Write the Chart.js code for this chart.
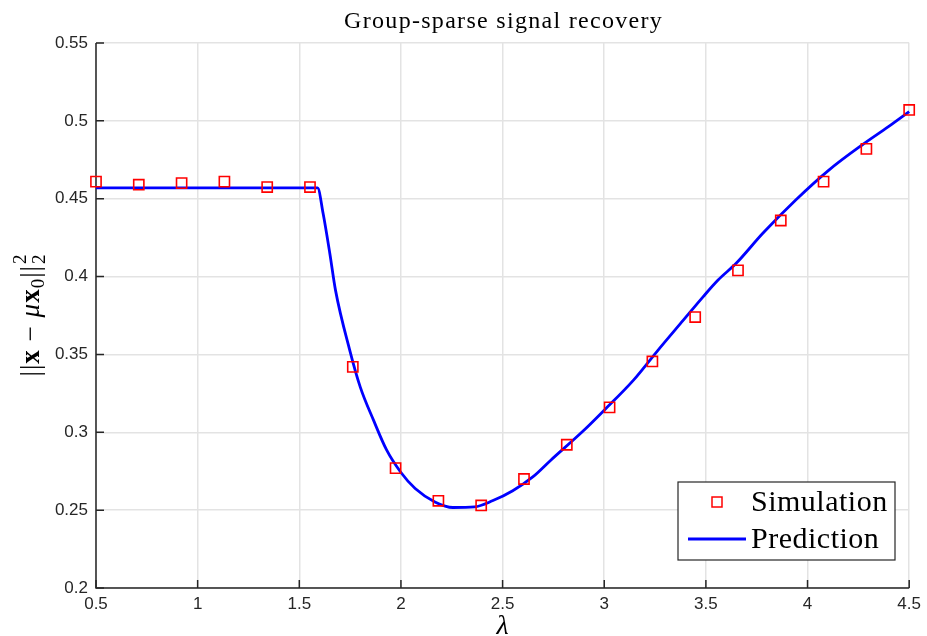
<!DOCTYPE html>
<html>
<head>
<meta charset="utf-8">
<script src="https://cdn.jsdelivr.net/npm/chart.js@4.4.1/dist/chart.umd.min.js"></script>
<style>
html,body{margin:0;padding:0;background:#fff;}
#wrap{width:927px;height:636px;position:relative;}
</style>
</head>
<body>
<div id="wrap"><canvas id="c" width="927" height="636"></canvas></div>
<script>
const titleText = "Group-sparse signal recovery";
const xTicks = [0.5, 1, 1.5, 2, 2.5, 3, 3.5, 4, 4.5];
const yTicks = [0.2, 0.25, 0.3, 0.35, 0.4, 0.45, 0.5, 0.55];

const simLambda = [0.5, 0.7105, 0.9211, 1.1316, 1.3421, 1.5526, 1.7632, 1.9737, 2.1842, 2.3947,
                   2.6053, 2.8158, 3.0263, 3.2368, 3.4474, 3.6579, 3.8684, 4.0789, 4.2895, 4.5];
const simValues = [0.461, 0.459, 0.460, 0.461, 0.4575, 0.4575, 0.342, 0.277, 0.256, 0.253,
                   0.270, 0.292, 0.316, 0.3455, 0.374, 0.404, 0.436, 0.461, 0.482, 0.507];

const predLambda = [0.5, 1.59, 1.617, 1.65, 1.678, 1.748, 1.80, 1.865, 1.93, 2.0, 2.07, 2.167, 2.256,
                    2.362, 2.45, 2.55, 2.65, 2.737, 2.9, 3.0, 3.144, 3.258, 3.389, 3.486, 3.56,
                    3.649, 3.78, 3.942, 4.105, 4.268, 4.398, 4.5];
const predValues = [0.457, 0.457, 0.4406, 0.415, 0.3913, 0.3528, 0.329, 0.3078, 0.2885, 0.2742, 0.2639, 0.2553, 0.2517,
                    0.2521, 0.2560, 0.2625, 0.2715, 0.2821, 0.3013, 0.3142, 0.3335, 0.3517, 0.372, 0.387, 0.3978,
                    0.4085, 0.4278, 0.4492, 0.4684, 0.4845, 0.4963, 0.506];

const AXIS = '#262626';
const GRID = '#e3e3e3';
const SERIF = '"Liberation Serif", "DejaVu Serif", serif';
const SANS = '"Liberation Sans", Arial, sans-serif';

const decor = {
  id: 'decor',
  beforeDatasetsDraw(chart) {
    const {ctx, chartArea: a, scales: {x, y}} = chart;
    ctx.save();
    ctx.strokeStyle = AXIS;
    ctx.lineWidth = 1.5;
    ctx.beginPath();
    ctx.moveTo(a.left, a.top);
    ctx.lineTo(a.left, a.bottom);
    ctx.lineTo(a.right, a.bottom);
    ctx.stroke();
    ctx.beginPath();
    xTicks.forEach(v => { const px = x.getPixelForValue(v); ctx.moveTo(px, a.bottom); ctx.lineTo(px, a.bottom - 8); });
    yTicks.forEach(v => { const py = y.getPixelForValue(v); ctx.moveTo(a.left, py); ctx.lineTo(a.left + 8, py); });
    ctx.stroke();
    ctx.restore();
  },
  afterDraw(chart) {
    const {ctx, chartArea: a} = chart;
    ctx.save();
    ctx.fillStyle = '#000';
    ctx.font = '24px ' + SERIF;
    ctx.letterSpacing = '1.3px';
    ctx.textAlign = 'center';
    ctx.textBaseline = 'alphabetic';
    ctx.fillText(titleText, (a.left + a.right) / 2 + 1, 28);
    ctx.letterSpacing = '0px';
    ctx.font = 'italic 28px ' + SERIF;
    ctx.fillText('λ', (a.left + a.right) / 2, 634);
    // y label (rotated)
    ctx.translate(30, 315);
    ctx.rotate(-Math.PI / 2);
    const F = 27, S = 19;
    const parts = [
      ['||', F + 'px ' + SERIF, 0],
      ['x', 'bold ' + F + 'px ' + SERIF, 0],
      [' − ', F + 'px ' + SERIF, 0],
      ['μ', 'italic ' + F + 'px ' + SERIF, 0],
      ['x', 'bold ' + F + 'px ' + SERIF, 0],
      ['0', S + 'px ' + SERIF, 5],
      ['||', F + 'px ' + SERIF, 0]
    ];
    ctx.letterSpacing = '1px';
    let total = 0;
    parts.forEach(p => { ctx.font = p[1]; total += ctx.measureText(p[0]).width; });
    ctx.font = S + 'px ' + SERIF;
    const sw = ctx.measureText('2').width;
    total += sw + 1;
    let cx = -total / 2;
    ctx.textAlign = 'left';
    parts.forEach(p => { ctx.font = p[1]; ctx.fillText(p[0], cx, 9 + p[2]); cx += ctx.measureText(p[0]).width; });
    ctx.font = S + 'px ' + SERIF;
    ctx.fillText('2', cx + 1, -4);
    ctx.fillText('2', cx + 1, 15);
    ctx.restore();

    // legend box
    ctx.save();
    const lx = 678, ly = 482, lw = 217, lh = 78;
    ctx.fillStyle = '#fff';
    ctx.fillRect(lx, ly, lw, lh);
    ctx.strokeStyle = AXIS;
    ctx.lineWidth = 1.2;
    ctx.strokeRect(lx, ly, lw, lh);
    ctx.strokeStyle = '#ff0000';
    ctx.lineWidth = 1.5;
    ctx.strokeRect(712, 497, 10, 10);
    ctx.strokeStyle = '#0000ff';
    ctx.lineWidth = 3;
    ctx.beginPath();
    ctx.moveTo(688, 539);
    ctx.lineTo(746, 539);
    ctx.stroke();
    ctx.fillStyle = '#000';
    ctx.font = '30px ' + SERIF;
    ctx.letterSpacing = '0.5px';
    ctx.textAlign = 'left';
    ctx.textBaseline = 'alphabetic';
    ctx.fillText('Simulation', 751, 511);
    ctx.fillText('Prediction', 751, 548);
    ctx.restore();
  }
};

const ctx = document.getElementById('c').getContext('2d');
new Chart(ctx, {
  type: 'scatter',
  data: {
    datasets: [
      {
        label: 'Prediction',
        data: predLambda.map((v, i) => ({x: v, y: predValues[i]})),
        showLine: true,
        borderColor: '#0000ff',
        borderWidth: 2.8,
        pointRadius: 0,
        cubicInterpolationMode: 'monotone',
        fill: false,
        clip: false,
        order: 2
      },
      {
        label: 'Simulation',
        data: simLambda.map((v, i) => ({x: v, y: simValues[i]})),
        showLine: false,
        pointStyle: 'rect',
        pointRadius: 7.2,
        pointBorderColor: '#ff0000',
        pointBackgroundColor: 'rgba(0,0,0,0)',
        pointBorderWidth: 1.6,
        clip: false,
        order: 1
      }
    ]
  },
  options: {
    responsive: false,
    animation: false,
    devicePixelRatio: 1,
    layout: {padding: {top: 43, right: 13, left: 0, bottom: 0}},
    plugins: {legend: {display: false}, title: {display: false}, tooltip: {enabled: false}},
    scales: {
      x: {
        type: 'linear', min: 0.5, max: 4.5,
        afterBuildTicks: s => { s.ticks = xTicks.map(v => ({value: v})); },
        afterFit: s => { s.height = 48; },
        grid: {color: GRID, lineWidth: 1.5, drawTicks: false},
        border: {display: false},
        ticks: {color: AXIS, font: {family: SANS, size: 17}, padding: 6, maxRotation: 0,
                callback: v => String(+v.toFixed(3))}
      },
      y: {
        type: 'linear', min: 0.2, max: 0.55,
        afterBuildTicks: s => { s.ticks = yTicks.map(v => ({value: v})); },
        afterFit: s => { s.width = 96; },
        grid: {color: GRID, lineWidth: 1.5, drawTicks: false},
        border: {display: false},
        ticks: {color: AXIS, font: {family: SANS, size: 17}, padding: 8,
                callback: v => String(+v.toFixed(3))}
      }
    }
  },
  plugins: [decor]
});
</script>
</body>
</html>
